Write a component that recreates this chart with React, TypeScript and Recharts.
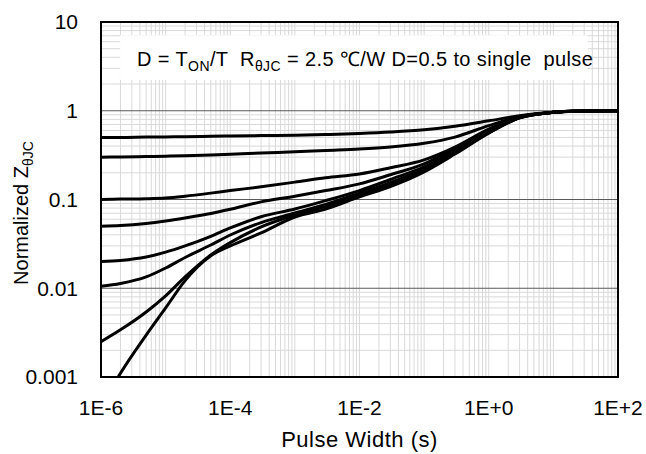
import { LineChart, Line, XAxis, YAxis, ReferenceLine, ReferenceArea } from 'recharts'

// pulse width (s), shared by the duty-cycle curves
const pulseWidths = [1e-6, 2e-6, 5e-6, 1e-5, 2e-5, 5e-5, 1e-4, 3e-4, 1e-3, 3e-3, 1e-2, 3e-2, 0.1, 0.3, 1, 3, 10, 20, 100]
const singleWidths = [1.85e-6, 2e-6, 5e-6, 1e-5, 2e-5, 5e-5, 1e-4, 3e-4, 1e-3, 3e-3, 1e-2, 3e-2, 0.1, 0.3, 1, 3, 10, 20, 100]

// normalized Z thermal
const d050 = [0.5, 0.5, 0.505, 0.507, 0.51, 0.515, 0.52, 0.525, 0.53, 0.54, 0.555, 0.575, 0.61, 0.67, 0.77, 0.88, 0.96, 0.99, 1]
const d030 = [0.3, 0.302, 0.305, 0.308, 0.312, 0.318, 0.323, 0.334, 0.345, 0.357, 0.37, 0.39, 0.43, 0.505, 0.68, 0.86, 0.96, 0.99, 1]
const d010 = [0.1, 0.101, 0.102, 0.104, 0.109, 0.118, 0.126, 0.139, 0.157, 0.176, 0.194, 0.228, 0.28, 0.39, 0.62, 0.85, 0.96, 0.99, 1]
const d005 = [0.05, 0.0508, 0.0537, 0.0573, 0.062, 0.0696, 0.0776, 0.094, 0.109, 0.126, 0.15, 0.19, 0.252, 0.375, 0.6, 0.845, 0.96, 0.99, 1]
const d002 = [0.02, 0.0206, 0.0225, 0.0255, 0.03, 0.0385, 0.0478, 0.064, 0.078, 0.097, 0.126, 0.168, 0.233, 0.355, 0.58, 0.84, 0.96, 0.99, 1]
const d001 = [0.0105, 0.0113, 0.0134, 0.0169, 0.0222, 0.0307, 0.0398, 0.055, 0.0705, 0.088, 0.118, 0.155, 0.222, 0.345, 0.575, 0.838, 0.96, 0.99, 1]
const d0025 = [0.0025, 0.0034, 0.0054, 0.0082, 0.0134, 0.0237, 0.0327, 0.049, 0.0668, 0.083, 0.112, 0.147, 0.212, 0.335, 0.565, 0.835, 0.96, 0.99, 1]
const single = [0.001, 0.0011, 0.00297, 0.006, 0.0122, 0.0232, 0.03, 0.042, 0.0635, 0.078, 0.107, 0.14, 0.205, 0.325, 0.56, 0.83, 0.96, 0.99, 1]

const xTicks = [1e-6, 1e-4, 1e-2, 1, 100]
const xTickLabels = ['1E-6', '1E-4', '1E-2', '1E+0', '1E+2']
const yTicks = [0.001, 0.01, 0.1, 1, 10]
const yTickLabels = ['0.001', '0.01', '0.1', '1', '10']

const curves = [d050, d030, d010, d005, d002, d001, d0025]

const toRows = (xs: number[], ys: number[]) => xs.map((w, i) => ({ w, z: ys[i] }))

// minor grid, 1..9 in every decade
const minor = (from: number, to: number) => {
  const out: { v: number; major: boolean }[] = []
  for (let e = from; e < to; e++) {
    for (let m = 1; m < 10; m++) out.push({ v: m * Math.pow(10, e), major: m === 1 })
  }
  return out
}
const gridX = minor(-6, 2)
const gridY = minor(-3, 1)

const FONT = '"Liberation Sans", Arial, sans-serif'

const labelFor = (ticks: number[], labels: string[]) => (v: number) =>
  labels[ticks.findIndex(t => Math.abs(Math.log10(t) - Math.log10(v)) < 1e-6)] ?? ''

const YLabel = () => (
  <text
    x={28}
    y={213}
    transform="rotate(-90, 28, 213)"
    textAnchor="middle"
    fontFamily={FONT}
    fontSize={20}
    fill="#000"
  >
    Normalized Z
    <tspan fontSize={14} dy={5}>θJC</tspan>
  </text>
)

export default function App() {
  return (
    <div style={{ position: 'absolute', left: 0, top: 0, width: 646, height: 454, background: '#fff' }}>
      <LineChart width={646} height={454} margin={{ top: 22, right: 28, bottom: 0, left: 0 }}>
        <XAxis
          dataKey="w"
          type="number"
          scale="log"
          domain={[1e-6, 100]}
          allowDataOverflow
          ticks={xTicks}
          tickFormatter={labelFor(xTicks, xTickLabels)}
          tickLine={false}
          axisLine={false}
          tickSize={0}
          tickMargin={23}
          height={77}
          tick={{ fill: '#000', fontSize: 21, fontFamily: FONT }}
          label={{ value: 'Pulse Width (s)', position: 'insideBottom', offset: 7, fill: '#000', fontSize: 22, fontFamily: FONT, letterSpacing: 0.5 }}
        />
        <YAxis
          type="number"
          scale="log"
          domain={[0.001, 10]}
          allowDataOverflow
          ticks={yTicks}
          tickFormatter={labelFor(yTicks, yTickLabels)}
          tickLine={false}
          axisLine={false}
          tickSize={0}
          tickMargin={23}
          width={101}
          tick={{ fill: '#000', fontSize: 21, fontFamily: FONT }}
          label={{ content: () => <YLabel /> }}
        />
        {gridX.map(g => (
          <ReferenceLine key={'gx' + g.v} x={g.v} stroke="#d9d9d9" strokeWidth={1} zIndex={-60} />
        ))}
        {gridY.map(g => (
          <ReferenceLine
            key={'gy' + g.v}
            y={g.v}
            stroke={g.major && g.v > 0.002 ? '#595959' : '#d9d9d9'}
            strokeWidth={1}
            zIndex={g.major ? -55 : -60}
          />
        ))}
        <ReferenceArea x1={1.97e-6} x2={34} y1={2.22} y2={7.1} fill="#fff" fillOpacity={1} stroke="none" zIndex={-50} />
        {curves.map((c, i) => (
          <Line
            key={'d' + i}
            data={toRows(pulseWidths, c)}
            dataKey="z"
            type="monotone"
            stroke="#000"
            strokeWidth={3}
            dot={false}
            isAnimationActive={false}
          />
        ))}
        <Line
          data={toRows(singleWidths, single)}
          dataKey="z"
          type="monotone"
          stroke="#000"
          strokeWidth={3}
          dot={false}
          isAnimationActive={false}
        />
        <ReferenceArea x1={1e-6} x2={100} y1={0.001} y2={10} fill="none" stroke="#000" strokeWidth={2} zIndex={900} />
      </LineChart>
      <div
        style={{
          position: 'absolute',
          left: 137,
          top: 47,
          fontFamily: FONT,
          fontSize: 20,
          letterSpacing: 0.4,
          color: '#000',
          whiteSpace: 'pre',
          lineHeight: '24px',
        }}
      >
        D = T<sub style={{ fontSize: 14 }}>ON</sub>/T  R<sub style={{ fontSize: 14 }}>θJC</sub> = 2.5 ℃/W D=0.5 to single  pulse
      </div>
    </div>
  )
}
